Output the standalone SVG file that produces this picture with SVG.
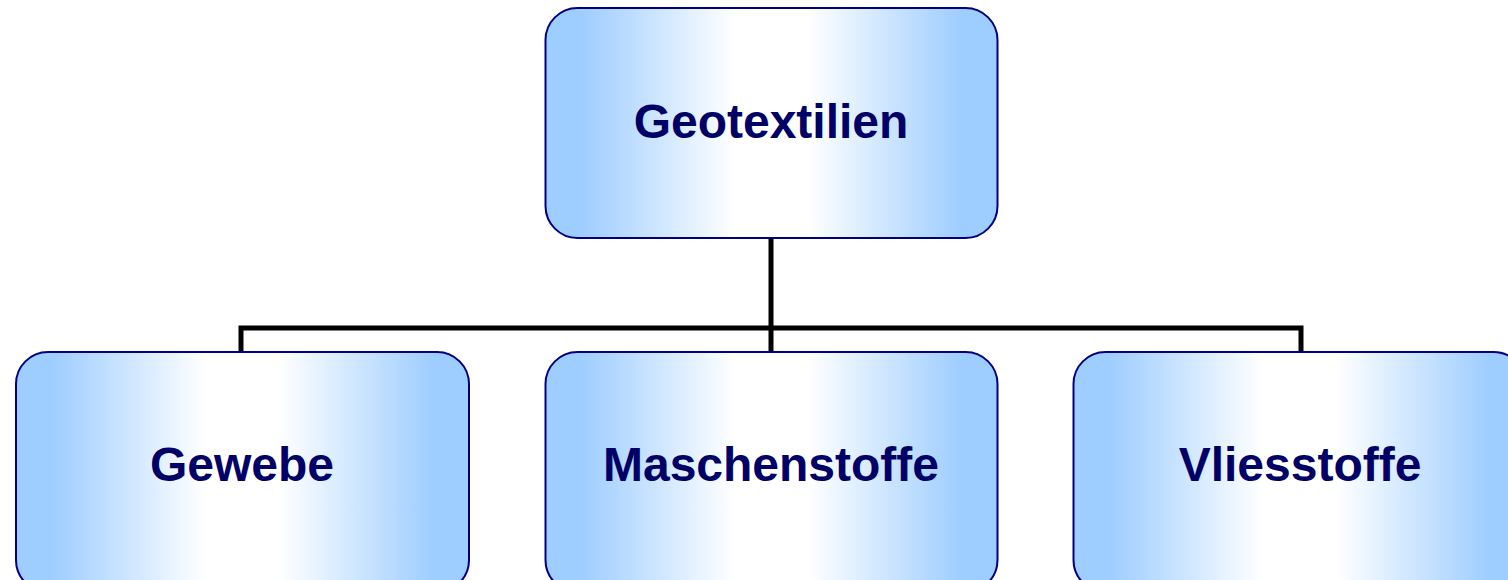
<svg xmlns="http://www.w3.org/2000/svg" width="1508" height="580" viewBox="0 0 1508 580">
<defs>
<linearGradient id="g" x1="0" y1="0" x2="1" y2="0">
<stop offset="0" stop-color="#9ECDFF"/>
<stop offset="0.08" stop-color="#9ECDFF"/>
<stop offset="0.42" stop-color="#FFFFFF"/>
<stop offset="0.58" stop-color="#FFFFFF"/>
<stop offset="0.92" stop-color="#9ECDFF"/>
<stop offset="1" stop-color="#9ECDFF"/>
</linearGradient>
</defs>
<style>
.box{fill:url(#g);stroke:#000080;stroke-width:2}
.lbl{font-family:"Liberation Sans",Arial,sans-serif;font-weight:bold;font-size:48px;fill:#000066;text-anchor:middle}
.con{fill:none;stroke:#000;stroke-width:5}
</style>
<rect width="1508" height="580" fill="#fff"/>
<g id="connectors">
<path class="con" d="M771 238 V328 M241 352 V328 H1301 V352 M771 328 V352"/>
</g>
<g id="geotextilien">
<rect class="box" x="545.5" y="8" width="452" height="230" rx="32"/>
<text class="lbl" x="771" y="138">Geotextilien</text>
</g>
<g id="gewebe">
<rect class="box" x="16" y="352" width="453" height="240" rx="32"/>
<text class="lbl" x="242" y="481">Gewebe</text>
</g>
<g id="maschenstoffe">
<rect class="box" x="545.5" y="352" width="452" height="240" rx="32"/>
<text class="lbl" x="771" y="481">Maschenstoffe</text>
</g>
<g id="vliesstoffe">
<rect class="box" x="1073.5" y="352" width="452" height="240" rx="32"/>
<text class="lbl" x="1300" y="481">Vliesstoffe</text>
</g>
</svg>
